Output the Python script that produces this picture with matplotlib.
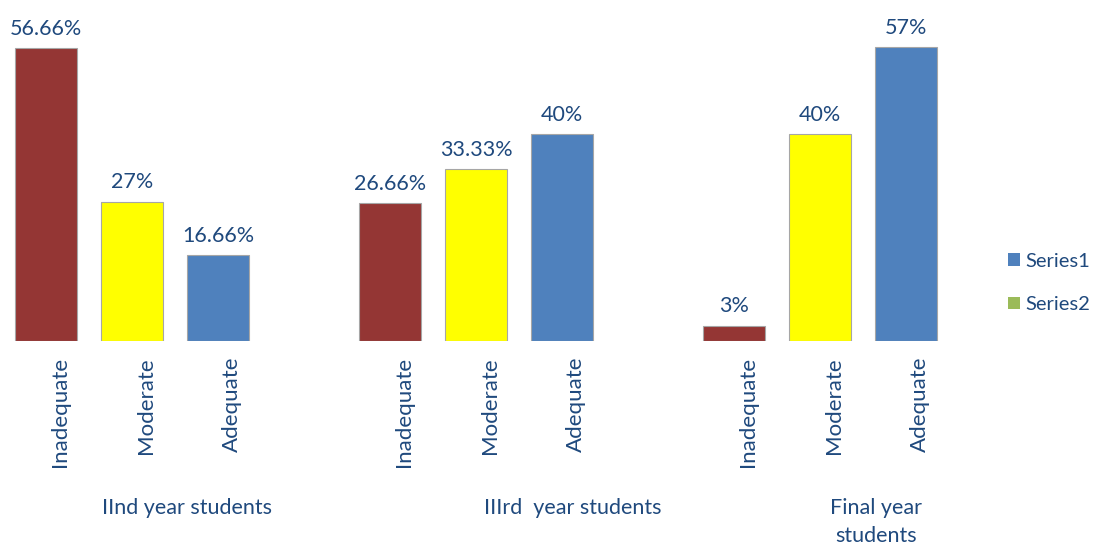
import numpy as np
import matplotlib.pyplot as plt
from matplotlib.patches import Patch

plt.rcParams['font.family'] = ['Lato', 'DejaVu Sans']

# Datos
grupos = ['IInd year students', 'IIIrd  year students', 'Final year\nstudents']
categorias = ['Inadequate', 'Moderate', 'Adequate']
valores = [[56.66, 27, 16.66],
           [26.66, 33.33, 40],
           [3, 40, 57]]
etiquetas = [['56.66%', '27%', '16.66%'],
             ['26.66%', '33.33%', '40%'],
             ['3%', '40%', '57%']]
series = ['Series1', 'Series2']

colores = ['#943634', '#FFFF00', '#4F81BD']
color_serie = ['#4F81BD', '#9BBB59']
texto = '#1F497D'

# corrimiento horizontal (en pixeles) de los nombres de cada grupo
corr_grupo = [55, 97, 56]

fig = plt.figure(figsize=(10.96, 5.47), dpi=100)
ax = fig.add_axes([3 / 1096, 206 / 547, 946 / 1096, 310 / 547])

for g in range(len(grupos)):
    x = g * 4 + np.arange(len(categorias))
    ax.bar(x, valores[g], width=0.72, color=colores, edgecolor='#a6a6a6', linewidth=0.8)
    for i in range(len(categorias)):
        ax.annotate(etiquetas[g][i], (x[i], valores[g][i]), xytext=(0, 9),
                    textcoords='offset pixels', ha='center', va='bottom',
                    fontsize=15.5, color=texto)
        ax.annotate(categorias[i], (x[i], 0), xytext=(14, -16),
                    textcoords='offset pixels', ha='center', va='top',
                    rotation=90, fontsize=16, color=texto)
    ax.annotate(grupos[g], (x[1], 0), xytext=(corr_grupo[g], -157), xycoords='data',
                textcoords='offset pixels', ha='center', va='top',
                fontsize=15.5, color=texto, linespacing=1.5)

ax.set_xlim(-0.5, 10.5)
ax.set_ylim(0, 60)
ax.axis('off')

handles = [Patch(facecolor=c, edgecolor='none') for c in color_serie]
fig.legend(handles, series, loc='center left', bbox_to_anchor=(990 / 1096, 1 - 283 / 547),
           frameon=False, fontsize=14.5, labelcolor=texto, handlelength=0.6,
           handleheight=0.6, handletextpad=0.25, labelspacing=1.3)

fig.savefig('out.png', dpi=100)
